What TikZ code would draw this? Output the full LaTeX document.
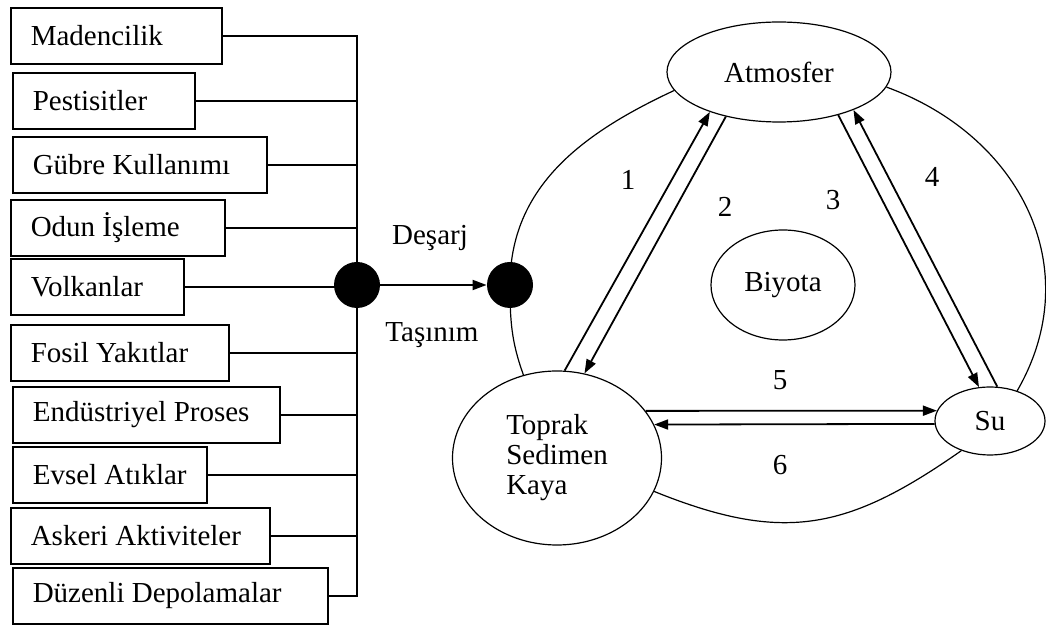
\documentclass[tikz,border=0pt]{standalone}
\usepackage{fontspec}
\setmainfont{Liberation Serif}
\usetikzlibrary{shapes.geometric, arrows.meta}

\tikzset{
    srcbox/.style={draw, rectangle, anchor=west, minimum height=28pt, inner xsep=10pt, line width=0.8pt},
    compart/.style={draw, ellipse, inner sep=0pt, line width=0.6pt},
    junction/.style={circle, fill, inner sep=0pt, minimum size=23pt},
    flow/.style={line width=0.9pt, -{Triangle[length=7pt, width=5pt]}},
}

\begin{document}
\begin{tikzpicture}[x=0.5pt, y=0.5pt, font=\fontsize{14.5}{15}\selectfont]
    \useasboundingbox (0, 0) rectangle (1046, -625);

    \foreach \txt/\xl/\yc/\tw [count=\i] in {Madencilik/10/36/85.5, Pestisitler/12/101/71, Gübre Kullanımı/12/165/107, Odun İşleme/10/228/87, Volkanlar/10/287/66.5, Fosil Yakıtlar/10/353/89, Endüstriyel Proses/12/415/113.5, Evsel Atıklar/12/475/77, Askeri Aktiviteler/10/536/109.5, Düzenli Depolamalar/12/596/137.5} {
        \node[srcbox] (b\i) at (\xl, -\yc) {\makebox[\tw pt][l]{\txt}};
    }

    \node[junction] (dA) at (357, -285) {};
    \node[junction] (dB) at (510, -285) {};

    \draw[line width=0.8pt] (b1.east) -- (b1.east -| dA) -- (b10.east -| dA) -- (b10.east);
    \foreach \i in {2, ..., 9} {
        \draw[line width=0.8pt] (b\i.east) -- (b\i.east -| dA);
    }
    \draw[flow] (dA) -- (dB);
    \node (desarj) at (430, -238) {Deşarj};
    \node (tasinim) at (432, -335) {Taşınım};

    \node[compart, minimum width=112pt, minimum height=50pt] (atm) at (779, -72) {Atmosfer};
    \node[compart, minimum width=72pt, minimum height=55pt] (bio) at (783, -285) {Biyota};
    \node[compart, minimum width=104.5pt, minimum height=87pt, align=left] (soil) at (557, -458) {Toprak\\Sedimen\\Kaya};
    \node[compart, minimum width=55pt, minimum height=34pt] (su) at (990, -421) {Su};

    % outer cycle
    \draw[line width=0.6pt] (atm.190) to[out=205, in=90] (dB.center) to[out=270, in=110] (soil.112);
    \draw[line width=0.6pt] (atm.352) to[out=-20, in=60, looseness=1.1] (su.48);
    \draw[line width=0.6pt] (soil.-19) to[out=-22, in=-145, looseness=1.15] (su.226);

    \draw[flow] (soil.85) -- (atm.210);
    \draw[flow] (atm.220) -- (soil.72);
    \draw[flow] (atm.324) -- (su.108);
    \draw[flow] (su.78) -- (atm.333);
    \draw[flow] (soil.28) -- (su.169);
    \draw[flow] (su.183) -- (soil.19);

    \node (n1) at (628, -180) {1};
    \node (n2) at (725, -207) {2};
    \node (n3) at (833, -200) {3};
    \node (n4) at (932, -177) {4};
    \node (n5) at (780, -380) {5};
    \node (n6) at (780, -465) {6};
\end{tikzpicture}
\end{document}
